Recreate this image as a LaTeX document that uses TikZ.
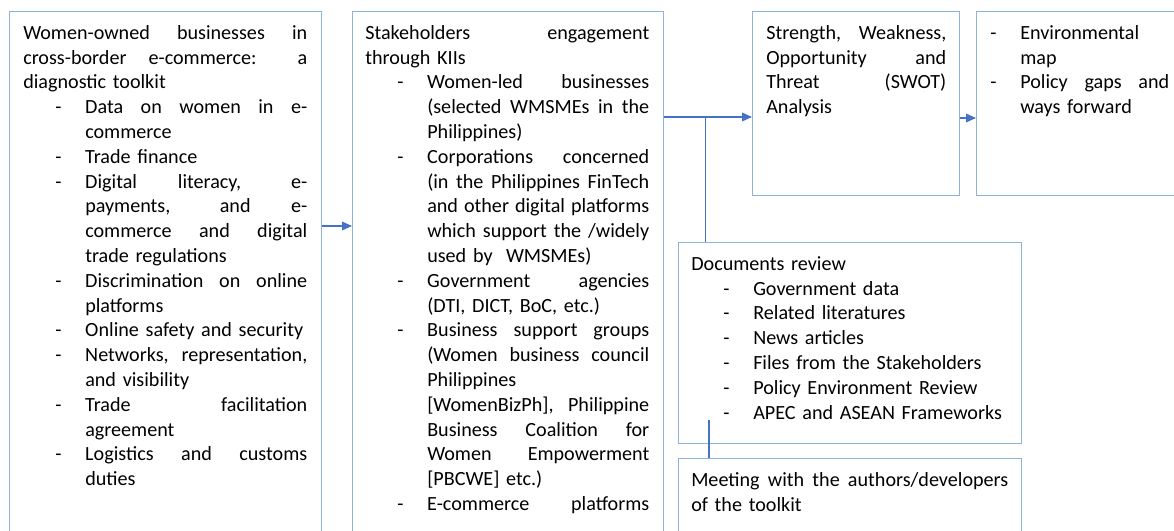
\documentclass[tikz,border=0pt]{standalone}
\usepackage{fontspec}
\setmainfont{Carlito}
\usetikzlibrary{positioning,arrows.meta,calc}
\definecolor{randblauw}{RGB}{143,179,224}
\definecolor{lijnblauw}{RGB}{68,114,196}

% regels in de kaders
\newcommand{\itm}{\makebox[46.5pt][l]{\hspace*{24pt}-}}
\newcommand{\hng}{\hspace*{46.5pt}}
\newcommand{\jst}[1]{\makebox[\dimexpr\hsize-46.5pt\relax][s]{\spaceskip=0pt\xspaceskip=0pt #1}}
\newcommand{\jfl}[1]{\makebox[\hsize][s]{\spaceskip=0pt\xspaceskip=0pt #1}}
\newcommand{\topstrut}{\rule{0pt}{21pt}}

\begin{document}
\begin{tikzpicture}[x=0.75pt, y=-0.75pt,
  every node/.style={font=\fontsize{15.1}{18.6}\selectfont},
  kader/.style={draw=randblauw, line width=1.1pt, anchor=north west, inner sep=0pt},
  tekst/.style={anchor=north west, inner sep=0pt, align=left},
  lijn/.style={draw=lijnblauw, line width=1.1pt},
  pijl/.style={lijn, -{Triangle[length=7.5pt,width=6.5pt]}}]

  \useasboundingbox (0,0) rectangle (1174,531);
  \clip (0,0) rectangle (1174,531);

  % kaders
  \node[kader, minimum width=234pt, minimum height=420pt] (toolkit) at (9,11) {};
  \node[kader, minimum width=233.25pt, minimum height=420pt] (stake) at (352,11) {};
  \node[kader, minimum width=155.25pt, minimum height=138pt] (swot) at (752,11) {};
  \node[kader, minimum width=160pt, minimum height=138pt] (output) at (976,11) {};
  \node[kader, minimum width=257.25pt, minimum height=150.75pt] (docs) at (678,242) {};
  \node[kader, minimum width=257.25pt, minimum height=100pt] (meet) at (678,458) {};

  % teksten
  \node[tekst, text width=213pt] (toolkit-txt) at ([xshift=10.5pt]toolkit.north west) {%
    \topstrut\jfl{Women-owned businesses in}\\
    \jfl{cross-border e-commerce: a}\\
    diagnostic toolkit\\
    \itm\jst{Data on women in e-}\\
    \hng commerce\\
    \itm Trade finance\\
    \itm\jst{Digital literacy, e-}\\
    \hng\jst{payments, and e-}\\
    \hng\jst{commerce and digital}\\
    \hng trade regulations\\
    \itm\jst{Discrimination on online}\\
    \hng platforms\\
    \itm Online safety and security\\
    \itm\jst{Networks, representation,}\\
    \hng and visibility\\
    \itm\jst{Trade facilitation}\\
    \hng agreement\\
    \itm\jst{Logistics and customs}\\
    \hng duties};

  \node[tekst, text width=213pt] (stake-txt) at ([xshift=9.75pt]stake.north west) {%
    \topstrut\jfl{Stakeholders engagement}\\
    through KIIs\\
    \itm\jst{Women-led businesses}\\
    \hng\jst{(selected WMSMEs in the}\\
    \hng Philippines)\\
    \itm\jst{Corporations concerned}\\
    \hng\jst{(in the Philippines FinTech}\\
    \hng\jst{and other digital platforms}\\
    \hng\jst{which support the /widely}\\
    \hng used by~ WMSMEs)\\
    \itm\jst{Government agencies}\\
    \hng (DTI, DICT, BoC, etc.)\\
    \itm\jst{Business support groups}\\
    \hng\jst{(Women business council}\\
    \hng Philippines\\
    \hng\jst{[WomenBizPh], Philippine}\\
    \hng\jst{Business Coalition for}\\
    \hng\jst{Women Empowerment}\\
    \hng [PBCWE] etc.)\\
    \itm\jst{E-commerce platforms}};

  \node[tekst, text width=135pt] (swot-txt) at ([xshift=10.5pt]swot.north west) {%
    \topstrut\jfl{Strength, Weakness,}\\
    \jfl{Opportunity and}\\
    \jfl{Threat (SWOT)}\\
    Analysis};

  \node[tekst, text width=158.25pt] (output-txt) at ([xshift=-13.5pt]output.north west) {%
    \topstrut\itm Environmental\\
    \hng map\\
    \itm\jst{Policy gaps and}\\
    \hng ways forward};

  \node[tekst, text width=237.75pt] (docs-txt) at ([xshift=9.75pt]docs.north west) {%
    \topstrut Documents review\\
    \itm Government data\\
    \itm Related literatures\\
    \itm News articles\\
    \itm Files from the Stakeholders\\
    \itm Policy Environment Review\\
    \itm APEC and ASEAN Frameworks};

  \node[tekst, text width=237.75pt] (meet-txt) at ([xshift=9.75pt]meet.north west) {%
    \topstrut\jfl{Meeting with the authors/developers}\\
    of the toolkit};

  % verbindingen
  \draw[pijl] ([yshift=-161.25pt]toolkit.north east) -- ([yshift=-161.25pt]stake.north west);
  \draw[pijl] ([yshift=-79.5pt]stake.north east) -- ([yshift=-79.5pt]swot.north west);
  \coordinate (aftak) at ([xshift=30.75pt,yshift=-79.5pt]stake.north east);
  \draw[lijn] (aftak) -- (aftak |- docs.north);
  \draw[pijl] ([yshift=-80.25pt]swot.north east) -- ([yshift=-80.25pt]output.north west);
  \draw[lijn] ([xshift=23.25pt,yshift=18pt]docs.south west) -- ([xshift=23.25pt]meet.north west);
\end{tikzpicture}
\end{document}
